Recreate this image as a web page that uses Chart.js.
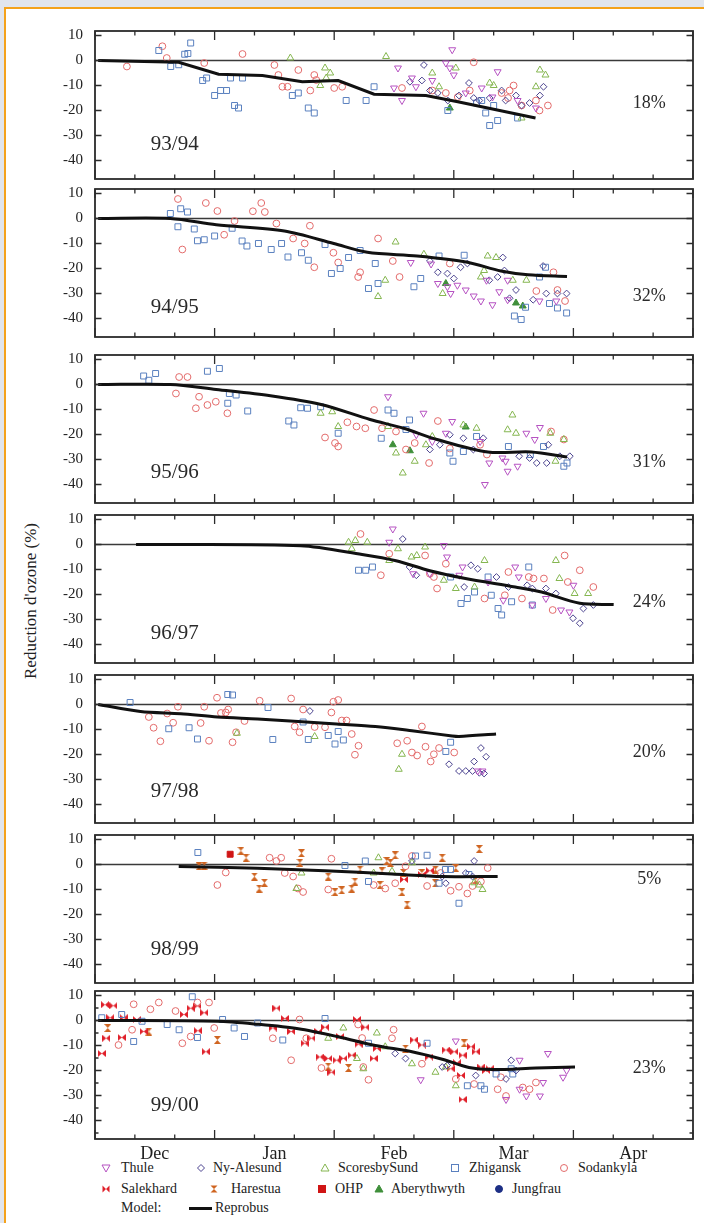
<!DOCTYPE html>
<html>
<head>
<meta charset="utf-8">
<script src="https://cdn.jsdelivr.net/npm/chart.js@4.4.1/dist/chart.umd.min.js"></script>
<style>
html, body { margin: 0; padding: 0; }
body { width: 704px; height: 1223px; overflow: hidden; position: relative; background: #e1e5ed;
       font-family: "Liberation Serif", "DejaVu Serif", serif; color: #222; }
#sheet { position: absolute; left: 4px; top: 7px; width: 760px; height: 1280px; background: #fff;
         border-left: 2px solid #f4a21c; border-top: 2px solid #f4a21c; }
canvas { position: absolute; left: 0; }
#ytitle { position: absolute; left: 31px; top: 601px; transform: translate(-50%, -50%) rotate(-90deg);
          font-size: 17px; white-space: nowrap; }
.lg { position: absolute; font-size: 14px; line-height: 14px; white-space: nowrap; transform: translateY(-50%); }
.lg svg { position: absolute; }
</style>
</head>
<body>
<div id="sheet"></div>
<div id="ytitle">Reduction d'ozone (%)</div>
<div id="legend"></div>
<script>
// ---- data (x = days from 1 Dec, y = ozone loss %) ----
const seasons = ['93/94', '94/95', '95/96', '96/97', '97/98', '98/99', '99/00'];
const losses = ['18%', '32%', '31%', '24%', '20%', '5%', '23%'];
const months = ['Dec', 'Jan', 'Feb', 'Mar', 'Apr'];
const monthDays = [15, 45, 75, 105, 135];
const yTicks = [10, 0, -10, -20, -30, -40];

const thule = [
  [[89.6,4.3],[76,-3],[80.5,-10.5],[77,-16],[79.5,-7],[88,-1],[89,-3],[90,-5.8],[101,-4.5],[110.6,-19],[84.6,-8],[75,-11],[99.7,-14.6],[106,-16],[93,-13],[97,-11]],
  [[79.2,-17.6],[84.3,-18.2],[86,-26],[90.9,-26.7],[93,-28.6],[95,-31],[96.8,-33],[99.7,-34.5],[101.4,-29.3],[103.5,-32.5],[98.2,-24.7],[103.5,-24.7],[111.5,-33],[115.7,-33],[88.4,-27.3],[89.2,-30]],
  [[73.5,-4.9],[82.4,-11.5],[89.6,-14.8],[84.6,-22.8],[96.6,-22.8],[98.9,-31.4],[97.8,-40],[103,-30.7],[103.5,-34.7],[106,-32.7],[108.2,-19.5],[111.6,-17.2],[110.3,-22],[102.2,-29.4],[80.6,-20.1],[88,-19.5]],
  [[74.7,6.2],[73.8,0.9],[87.5,-0.4],[88.3,-5],[92.2,-9],[91.4,-12.3],[105.4,-9],[98.6,-15],[106.3,-13],[102.4,-22.3],[109.7,-24.2],[113.1,-21.6],[116.9,-26.2],[119,-27],[84,-11.7],[79.8,-11.7],[120,-16.3]],
  [[96,-26.6],[97.2,-26.6]],
  [],
  [[81.7,-23.7],[90.5,-8.2],[106.5,-15.9],[113.6,-13.2],[117.4,-22.7],[118.3,-20],[103.1,-31.6],[106.5,-27.5],[112.4,-24.8],[108.2,-30.2],[111.6,-30.2]]
];
const nyAlesund = [
  [[82.5,-1.8],[82,-8],[84,-12],[79,-8.5],[93.8,-9],[96.4,-16],[99,-15],[105.6,-14],[109,-17],[112.5,-10.5],[111.6,-14],[91.3,-14],[102,-12],[103,-16],[86,-13],[88.5,-16],[95,-15],[107,-18]],
  [[84,-17],[86,-21.5],[88.4,-22],[90,-24],[91.7,-19.5],[93.4,-18],[98.9,-24.7],[101,-23.4],[102.3,-15.6],[104,-31.9],[105.6,-28.6],[112.4,-19],[113.2,-30],[116,-30],[118.3,-30],[109.9,-32.5],[102.7,-20.8]],
  [[89,-20.1],[92.4,-21.5],[94.9,-26],[97.4,-21.5],[106.4,-28.7],[109,-29.4],[110.8,-31.4],[113.3,-31.4],[113.7,-24.1],[116.6,-28.7],[119.1,-28.7],[84,-26],[86.5,-24.1]],
  [[77.2,2.2],[78.9,-9],[80.6,-12.3],[94.3,-8.3],[96,-9.7],[100.7,-13],[103.7,-17],[108.4,-16.3],[109.7,-17.6],[113.1,-17.6],[115.6,-19.6],[119.9,-29.5],[121.6,-31.5],[122.5,-25.6],[125,-24.2],[92.6,-17]],
  [[88.8,-23.9],[91.3,-26.6],[93,-26.6],[94.7,-26.6],[96.8,-17.4],[98.1,-20.9],[95.1,-22.8],[96.4,-27.3],[97.6,-27.6],[53.9,-2.6]],
  [[79.5,1.4],[95.1,1.4],[93,-3.4],[94.7,-4.8],[87.1,-4.8],[88,-7.5]],
  [[104.4,-15.9],[105.6,-20],[75.3,-13.2],[77.9,-15.2],[87.1,-18.6],[88.3,-18],[95.5,-22],[103.1,-23.4]]
];
const scoresbySund = [
  [[49,1],[73,1.6],[57.7,-3],[59,-5],[56.5,-10],[90.5,-3],[84.6,-5],[86.3,-10.5],[99,-9],[100,-10],[111.6,-3.8],[113,-5.8],[110.6,-10.5],[107,-23],[58,-7]],
  [[75.4,-9.4],[98.5,-15],[100.6,-15.6],[96.8,-23.4],[108.2,-24.7],[71,-31.2],[82.5,-14.3],[87.2,-30],[104.8,-24.7],[97.6,-20.8],[72.8,-24.7]],
  [[56.6,-11.5],[59.5,-10.9],[104.7,-12.2],[103.5,-18.1],[105.6,-19.5],[95.7,-17.5],[92.4,-16.2],[117.6,-22],[114.2,-19.5],[115.5,-30.7],[75.5,-27.4],[80.2,-30.7],[77.2,-35.4],[84.6,-20.8],[73.5,-16.8],[61,-16.8],[83,-24.1]],
  [[63.6,0.9],[65.3,1.6],[68.3,0.9],[64.4,-1.7],[73.8,-6.4],[76,-1.7],[79.4,-5],[80.7,-4.4],[82.8,-1],[97.7,-6.4],[90.5,-17.6],[95.2,-17],[115.6,-6.4],[116.5,-13.6],[120.3,-19.6],[123.7,-19.6],[87.5,-14.3]],
  [[77,-19.9],[76.2,-25.9],[55.1,-12.8],[35.6,-11.5]],
  [[51.8,-3.4],[50.5,-9.6],[71.1,2.7],[69.9,-3.4],[79.5,0.7],[96.4,-8.2],[95.1,-7.3],[97.2,-10],[74.5,-2.7]],
  [[62.3,-3],[58.5,-7.1],[65.7,-15.2],[67.3,-19.3],[70.7,-5],[72.8,-10.5],[79.5,-17.3],[85.4,-20.7],[90.5,-26.1],[88,-18.6]]
];
const zhigansk = [
  [[16,4],[22.5,2.5],[23.3,2.8],[24,7],[19,-2.4],[21,-1.7],[27,-8],[28,-7],[30,-14],[31.5,-12],[33,-12],[34,-7],[37,-7],[35,-18],[36,-19],[49.5,-14],[51,-13],[53.5,-19],[55,-21],[63,-16],[68,-16],[70,-10.5],[88.5,-20],[95.7,-17],[98,-21],[99,-26],[101,-24],[106,-23],[97,-16],[100,-18]],
  [[18.9,2],[21.5,3.9],[23.2,2.6],[20.8,-3.3],[24.9,-4.2],[25.7,-8.9],[27.4,-8.5],[30,-7],[34.4,-3.9],[36.9,-9],[38.1,-11],[41,-10],[44.2,-12.4],[46.8,-10],[48.4,-15.4],[51.8,-13.7],[53.5,-16.7],[57.7,-10.4],[59.3,-22],[61.5,-20],[63.6,-15.6],[66.5,-12.8],[68.6,-28],[70.3,-18],[71,-26],[80,-27.3],[81.7,-24],[86.3,-15],[92.6,-14.7],[105.2,-39],[106.9,-40.4],[108,-35.5],[111.5,-23.4],[114,-34],[116,-35.8],[118.3,-37.8],[113,-19.5]],
  [[12.2,3.4],[15.2,4.4],[13.5,1.7],[28.2,5.3],[31.2,6.4],[33.3,-7.5],[38.3,-10.6],[35.4,-4.2],[33.7,-3.6],[48.6,-14.6],[49.9,-16.2],[51.6,-9.3],[53.3,-9.5],[56.6,-8.9],[61,-19.5],[71.8,-21.5],[73.5,-10.2],[75,-11.5],[78.9,-14.2],[78,-18],[89,-27.4],[89.8,-30.7],[92.4,-26.8],[95.7,-20.8],[103.7,-24.8],[109.2,-28],[112.5,-24.8],[117.6,-32.7],[118.4,-31.4]],
  [[66.1,-10.3],[67.9,-10.3],[69.6,-9],[91.8,-23.6],[93.4,-21.6],[95.2,-19],[99.4,-20.3],[101.1,-25.6],[102,-28.2],[104.5,-22.9],[108.8,-9],[109.7,-24.2],[98.6,-13],[89.2,-13]],
  [[8.8,0.8],[18.5,-9.7],[23.6,-9.3],[25.7,-13.8],[33.3,4],[34.5,3.8],[43.4,-1.2],[44.6,-14],[52.2,-7],[53.5,-14],[58.5,-12.4],[60.2,-15.8],[62.3,-14.2],[61,-10.8],[88,-18.8],[89.2,-15.1]],
  [[25.8,4.8],[62.7,-0.4],[67.8,1.4],[68.6,-6.8],[80.4,3.4],[83.3,3.7],[87.9,-2],[91.3,-15.5],[86.3,-7.5],[89.2,-2],[93.8,-4]],
  [[1.7,1.1],[6.7,2.4],[9.7,-8.4],[11.8,-0.3],[18.1,-1.6],[21.1,-3.7],[24.4,9.5],[25.7,-6.8],[32,0.4],[34.9,-3],[37.5,-6.4],[40.8,-1],[57.7,0.8],[47.1,-7.8],[68.6,-9.1],[83.3,-9.1],[93.4,-26.1],[96.8,-26.1],[97.7,-27.5],[100.6,-21.4],[104.8,-21.4],[104.4,-19.3]]
];
const sodankyla = [
  [[16.9,5.7],[18,1],[8,-2.4],[27.4,-1],[37,2.6],[45,-1.8],[46,-5.8],[51,-3.8],[47,-10.5],[48.3,-10.5],[55,-5.8],[55.5,-7.8],[54,-12],[60,-11],[62,-10.5],[95,-0.7],[94,-12],[105,-10],[102,-13],[104,-12],[107,-18],[111.5,-20],[113.6,-18],[110.6,-16],[88,-13],[91,-14.6],[77,-11],[84.6,-12],[103.6,-15]],
  [[20.8,7.8],[27.8,6.2],[30.7,3],[39.6,2.9],[41.7,6.2],[42.6,2.6],[35,-1],[45.5,-2],[53.9,-2.9],[49.7,-8],[52.6,-10],[21.9,-12.4],[32.4,-6.5],[61,-17.6],[59.8,-13.7],[71,-8],[66.5,-21.5],[66,-23.4],[76.4,-23.4],[74.7,-17],[89,-18],[110.7,-29],[116,-28.6],[115,-21.5],[117.9,-33],[55,-19.5]],
  [[21.1,3],[23.2,3],[20.3,-3.6],[26.1,-4.9],[25.3,-9.5],[28.2,-8.2],[30.3,-6.9],[33.2,-11.5],[57.7,-21.2],[61,-24.8],[60.2,-23.4],[63.3,-15.1],[65.6,-16.8],[67.8,-17.5],[70,-10.2],[72,-17.5],[75.5,-18.8],[78,-26],[80.2,-23.4],[83.8,-31.4],[86,-14.6],[89,-25.6],[96.6,-24.1],[98.3,-28],[117.6,-22],[114.4,-18.8]],
  [[66.6,4.2],[71.7,-12.3],[73.8,-3.7],[82.8,-4.4],[84,-11.7],[85.8,-17.6],[85,-13],[88,-7.7],[103.7,-11],[108.8,-13],[112.6,-13.6],[117.8,-4.4],[121.6,-10.3],[118.6,-15],[125,-17],[97.7,-21.6],[107.1,-21.6],[102.8,-20.3],[114.8,-26.2],[110,-13.6]],
  [[13.5,-5],[14.7,-9.3],[16.4,-14.7],[18.1,-3.6],[19.6,-7.3],[20.8,-0.9],[26.5,-7.4],[27.4,-0.9],[28.6,-14.5],[30.6,2.7],[31.6,-3.4],[32.8,-3.2],[33.4,-2],[34.5,-15.1],[35.4,-11.1],[37.5,-6.6],[41.3,1.5],[49.2,2.4],[50.1,-8.8],[51.3,-11.1],[52.2,-2],[57.7,-9.1],[59.3,-3.2],[59.8,1.1],[61,1.8],[61.9,-6.4],[63.1,-6.4],[64.4,-11.8],[66.1,-16.5],[65.2,-20.1],[82,-8.8],[82.9,-16.9],[84.2,-22.8],[85,-19.9],[86.3,-17.4],[90.1,-19.2],[75.8,-15.5],[78.3,-14.5],[79.5,-19.2],[80.8,-20.4],[55.1,-9]],
  [[30.7,-8.2],[32.8,-3.2],[43.8,2.7],[45.5,1.4],[46.7,2.7],[47.6,-3.4],[49.7,-4.8],[50.9,-9.6],[52.2,-11],[59.3,2.3],[58.5,-10],[72.8,-9.6],[69.9,-8.2],[75.3,-7.5],[77.9,-0.7],[83.3,-8.6],[86.7,-3.4],[89.2,-10.5],[91.3,-8.9],[93.4,-11.6],[94.7,-8.6],[98.5,-1.4],[96.8,-6.8],[79.5,3.4]],
  [[9.7,6.5],[13.9,4.5],[16,7.2],[20.2,3.8],[5.9,-9.8],[9.3,-3.7],[21.9,-9.1],[24,-6.4],[28.6,7.2],[25.7,7.2],[29.9,-3],[44.6,-7.1],[49.2,-15.9],[51.3,0.4],[53,-7.1],[56.8,-19],[66,-1.6],[67.3,-18.6],[68.6,-23.7],[67,-7],[74.9,-3.7],[74.5,-7.1],[82,-17.3],[90.5,-23.4],[95.1,-25.4],[101,-27.5],[103.1,-30.2],[101.8,-22.7],[107.3,-26.8],[109,-27.5],[110.6,-24.8]]
];
const salekhard = [
  [], [], [], [], [],
  [[82,-4],[84,-2.5],[77.5,-6]],
  [[2.5,6.3],[4.6,5.9],[1.7,-13.2],[2.8,-7.1],[3.8,1.1],[7.2,1.1],[10.5,0.4],[12.2,-4.4],[6.7,-6.8],[22.3,2.4],[24,4.9],[25.7,5.8],[27.4,3.1],[25.8,-4.1],[27.8,-12.5],[45.5,4.9],[47.6,0.8],[44.6,-3],[49.2,-4.4],[52.6,-9.1],[54.3,-7.1],[56,-4.4],[57.7,-2.7],[56.4,-14.6],[58.5,-15.2],[60.6,-15.9],[62.3,-15.2],[64.4,-13.9],[59.3,-20.7],[61.5,-6.4],[65.7,0.4],[67.8,-2.7],[66.1,-9.5],[69.9,-15.2],[70.7,-11.2],[80,-7.8],[82,-9.8],[83.8,-14.6],[88,-11.8],[90.1,-12.5],[92.2,-13.9],[94.3,-10.5],[95.5,-12.5],[91.8,-22],[92.2,-31.6],[96.8,-18.6],[98.1,-20],[99,-19.3],[89.2,-19.3],[90.8,-16.9]]
];
const harestua = [
  [], [], [], [], [],
  [[26.1,-0.7],[27.4,-0.4],[36.6,5.5],[40,-4.8],[41.2,-9.6],[42.5,-7.3],[51.8,4.5],[51.4,0.7],[58.5,-4.8],[60.2,-11],[61.9,-10.3],[64.4,-9.6],[65.2,-6.8],[66.5,-2],[72,-2.7],[74.1,0.7],[75.3,3.7],[77,-11],[77.4,-3.4],[82,-3.4],[85.4,-2],[90.5,-1.4],[95.5,-6.2],[37.9,2.7],[71.5,-8.2],[73.2,1.4],[78.3,-16],[85.4,-7.5],[87.1,2.7],[96.4,6.2]],
  [[13.5,-4.4],[30.7,-7.8],[63.6,-19],[58.5,-18.4],[92.6,-9.1],[77.9,-11.2],[3.2,-3]]
];
const ohp = [[], [], [], [], [], [[33.9,4.1]], []];
const aberythwyth = [[[89,-19]], [[105.6,-33.8],[107.3,-35],[88,-26]], [[74.7,-24.1],[79,-26.5],[93,-17]], [], [], [], []];
const jungfrau = [[], [], [], [], [], [], []];

// Reprobus model curves
const reprobus = [
  [[0.8,0],[21,-0.7],[31,-5.5],[42,-6],[52,-8.5],[61,-8],[70,-13.5],[83,-14],[91,-16.5],[110.5,-23]],
  [[0.8,0],[18.9,0],[30.4,-2.5],[47.5,-5],[59.9,-10],[68.3,-13.5],[80.8,-15],[93.4,-17.5],[101.8,-21],[108.6,-22.5],[118.4,-23.2]],
  [[0.8,0],[18.9,0],[30.4,-2],[44,-4.5],[56.7,-8],[69,-14],[77.4,-17.5],[85.8,-22],[98.5,-27],[109.4,-27],[118.4,-29]],
  [[10.3,0],[51.6,-0.5],[67,-4],[75.5,-6.5],[84,-10.5],[92.6,-13.5],[105.4,-17],[112,-19],[121.6,-23.5],[130.1,-24]],
  [[0.8,0],[11.4,-2.8],[21.5,-3.7],[30.7,-5],[40.8,-5.8],[51,-6.8],[60.6,-7.8],[70.3,-8.8],[79.5,-10.5],[89.6,-12.6],[91.3,-12.8],[100.6,-11.8]],
  [[21,-0.8],[40.8,-1.5],[57.7,-2.5],[74.5,-3.8],[87.1,-4.8],[101,-4.8]],
  [[0.8,0],[30.7,-0.3],[40.8,-1.5],[51,-3.3],[61,-6.5],[70.3,-10],[79.5,-12.5],[87.1,-15.5],[93.8,-18.8],[99.7,-19.6],[110.6,-19],[120.4,-18.6]]
];

// ---- layout ----
const FONT = '"Liberation Serif", "DejaVu Serif", serif';
const panelTop = [31, 189, 355, 515, 675, 835, 991];
const PANEL_H = 148, PAD_T = 14, PAD_B = 14, AXIS_H = 30;
const Y_MIN = -47.4, Y_MAX = 11.8;
const seasonY = [-33.5, -35.5, -35.3, -35.5, -34.6, -34, -33.9];
const lossY = [-17, -31, -31, -23, -19, -6, -19];
const minorY = [false, false, false, false, false, false, true];

// small marker images for bowtie / hourglass
function bowtie(color) {
  const c = document.createElement('canvas');
  c.width = 8; c.height = 7;
  const g = c.getContext('2d');
  g.fillStyle = color;
  g.beginPath();
  g.moveTo(0, 0); g.lineTo(4, 3.5); g.lineTo(0, 7); g.closePath();
  g.moveTo(8, 0); g.lineTo(4, 3.5); g.lineTo(8, 7); g.closePath();
  g.fill();
  return c;
}

const stations = [
  { name: 'Thule', data: thule, color: '#b652c2', style: 'triangle', rot: 180, r: 4, fill: false },
  { name: 'Ny-Alesund', data: nyAlesund, color: '#4b438f', style: 'rectRot', r: 3.4, fill: false },
  { name: 'ScoresbySund', data: scoresbySund, color: '#85b650', style: 'triangle', r: 4, fill: false },
  { name: 'Zhigansk', data: zhigansk, color: '#5a80bf', style: 'rect', r: 4.2, fill: false },
  { name: 'Sodankyla', data: sodankyla, color: '#e36b6b', style: 'circle', r: 3.4, fill: false },
  { name: 'Salekhard', data: salekhard, color: '#e0202a', style: 'bowtie', r: 3.5, fill: true },
  { name: 'Harestua', data: harestua, color: '#cf6420', style: 'bowtie', rot: 90, r: 3.5, fill: true },
  { name: 'OHP', data: ohp, color: '#d01515', style: 'rect', r: 4.2, fill: true },
  { name: 'Aberythwyth', data: aberythwyth, color: '#3f8f3a', style: 'triangle', r: 4, fill: true },
  { name: 'Jungfrau', data: jungfrau, color: '#1d2f85', style: 'circle', r: 3.4, fill: true }
];

const decor = {
  id: 'decor',
  beforeDatasetsDraw(chart) {
    const { ctx, chartArea: a, scales: { y } } = chart;
    const y0 = y.getPixelForValue(0);
    ctx.save();
    ctx.strokeStyle = '#3a3a3a';
    ctx.lineWidth = 1.4;
    ctx.beginPath(); ctx.moveTo(a.left, y0); ctx.lineTo(a.right, y0); ctx.stroke();
    ctx.restore();
  },
  afterDatasetsDraw(chart, args, opts) {
    const { ctx, chartArea: a, scales: { x, y } } = chart;
    ctx.save();
    ctx.strokeStyle = '#2b2b2b';
    ctx.lineWidth = 1.8;
    ctx.strokeRect(a.left, a.top, a.right - a.left, a.bottom - a.top);
    ctx.lineWidth = 1.3;
    ctx.beginPath();
    for (let d = 0; d <= 150; d += 10) {
      const px = x.getPixelForValue(d);
      const len = d % 30 === 0 ? 9 : 4.5;
      ctx.moveTo(px, a.top); ctx.lineTo(px, a.top + len);
      ctx.moveTo(px, a.bottom); ctx.lineTo(px, a.bottom - len);
    }
    const step = opts.minor ? 5 : 10;
    for (let v = 10; v >= -45; v -= step) {
      const py = y.getPixelForValue(v);
      const len = v % 10 === 0 ? 6.5 : 3.5;
      ctx.moveTo(a.left, py); ctx.lineTo(a.left + len, py);
      ctx.moveTo(a.right, py); ctx.lineTo(a.right - len, py);
    }
    ctx.stroke();
    ctx.fillStyle = '#2a2a2a';
    ctx.textAlign = 'center';
    ctx.textBaseline = 'middle';
    ctx.font = '21px ' + FONT;
    ctx.fillText(opts.season, x.getPixelForValue(20), y.getPixelForValue(opts.seasonY));
    ctx.font = '18px ' + FONT;
    ctx.fillText(opts.loss, x.getPixelForValue(139), y.getPixelForValue(opts.lossY));
    ctx.restore();
  }
};

const bowtieCache = {};
function pointStyleFor(st) {
  if (st.style !== 'bowtie') return st.style;
  if (!bowtieCache[st.color]) bowtieCache[st.color] = bowtie(st.color);
  return bowtieCache[st.color];
}

function makePanel(i) {
  const last = i === seasons.length - 1;
  const cv = document.createElement('canvas');
  cv.width = 704;
  cv.height = PAD_T + PANEL_H + (last ? AXIS_H : PAD_B);
  cv.style.top = (panelTop[i] - PAD_T) + 'px';
  document.body.appendChild(cv);

  const datasets = [{
    label: 'Reprobus',
    data: reprobus[i].map(p => ({ x: p[0], y: p[1] })),
    showLine: true, borderColor: '#111', borderWidth: 3, pointRadius: 0,
    tension: i === 0 ? 0 : 0.3, fill: false
  }];
  stations.forEach(st => {
    datasets.push({
      label: st.name,
      data: st.data[i].map(p => ({ x: p[0], y: p[1] })),
      showLine: false,
      pointStyle: pointStyleFor(st),
      rotation: st.rot || 0,
      pointRadius: st.r,
      pointBorderWidth: 1,
      borderColor: st.color,
      backgroundColor: st.fill ? st.color : 'rgba(0,0,0,0)'
    });
  });

  new Chart(cv, {
    type: 'scatter',
    data: { datasets },
    options: {
      responsive: false, animation: false, devicePixelRatio: 1,
      layout: { padding: { top: PAD_T, bottom: last ? 0 : PAD_B, left: 0, right: 11 } },
      plugins: {
        legend: { display: false }, tooltip: { enabled: false },
        decor: { season: seasons[i], loss: losses[i], seasonY: seasonY[i], lossY: lossY[i], minor: minorY[i] }
      },
      scales: {
        x: {
          type: 'linear', min: 0, max: 150, display: last,
          grid: { display: false }, border: { display: false },
          afterBuildTicks: s => { s.ticks = monthDays.map(v => ({ value: v })); },
          afterFit: s => { s.height = last ? AXIS_H : 0; },
          ticks: { autoSkip: false, maxRotation: 0, padding: -4, color: '#222',
                   font: { family: FONT, size: 18 }, callback: (v, idx) => months[idx] }
        },
        y: {
          type: 'linear', min: Y_MIN, max: Y_MAX,
          grid: { display: false }, border: { display: false },
          afterBuildTicks: s => { s.ticks = yTicks.map(v => ({ value: v })); },
          afterFit: s => { s.width = 95; },
          ticks: { padding: 4, color: '#222', font: { family: FONT, size: 15 }, callback: v => String(v) }
        }
      }
    },
    plugins: [decor]
  });
}

seasons.forEach((s, i) => makePanel(i));

// ---- legend ----
function symbolSvg(st) {
  const c = st.color, f = st.fill ? c : 'none';
  let shape = '';
  if (st.style === 'triangle' && st.rot === 180) shape = `<polygon points="1,2 9,2 5,9" fill="${f}" stroke="${c}"/>`;
  else if (st.style === 'triangle') shape = `<polygon points="1,8 9,8 5,1" fill="${f}" stroke="${c}"/>`;
  else if (st.style === 'rectRot') shape = `<polygon points="5,1.5 8.5,5 5,8.5 1.5,5" fill="${f}" stroke="${c}"/>`;
  else if (st.style === 'rect') shape = `<rect x="1.5" y="1.5" width="7" height="7" fill="${f}" stroke="${c}"/>`;
  else if (st.style === 'circle') shape = `<circle cx="5" cy="5" r="3.5" fill="${f}" stroke="${c}"/>`;
  else if (st.rot === 90) shape = `<polygon points="1.5,1.5 8.5,1.5 5,5 8.5,8.5 1.5,8.5 5,5" fill="${c}"/>`;
  else shape = `<polygon points="1.5,1.5 5,5 8.5,1.5 8.5,8.5 5,5 1.5,8.5" fill="${c}"/>`;
  return `<svg width="10" height="10" viewBox="0 0 10 10" style="left:-5px;top:-5px">${shape}</svg>`;
}

const legendRows = [1168, 1189, 1208];
const legendSlots = [
  [106, 121, 0], [201, 213, 0], [325, 338, 0], [455, 469, 0], [564, 578, 0],
  [106, 121, 1], [214, 231, 1], [322, 335, 1], [379, 391, 1], [499, 512, 1]
];
const legendDiv = document.getElementById('legend');
stations.forEach((st, k) => {
  const [sx, tx, row] = legendSlots[k];
  const y = legendRows[row];
  const sym = document.createElement('div');
  sym.className = 'lg';
  sym.style.left = sx + 'px'; sym.style.top = y + 'px';
  sym.innerHTML = symbolSvg(st);
  legendDiv.appendChild(sym);
  const t = document.createElement('div');
  t.className = 'lg';
  t.style.left = tx + 'px'; t.style.top = y + 'px';
  t.textContent = st.name;
  legendDiv.appendChild(t);
});
legendDiv.insertAdjacentHTML('beforeend',
  `<div class="lg" style="left:121px;top:${legendRows[2]}px">Model:</div>` +
  `<div style="position:absolute;left:189px;top:${legendRows[2] - 1.5}px;width:23px;height:3px;background:#111"></div>` +
  `<div class="lg" style="left:215px;top:${legendRows[2]}px">Reprobus</div>`);
</script>
</body>
</html>
